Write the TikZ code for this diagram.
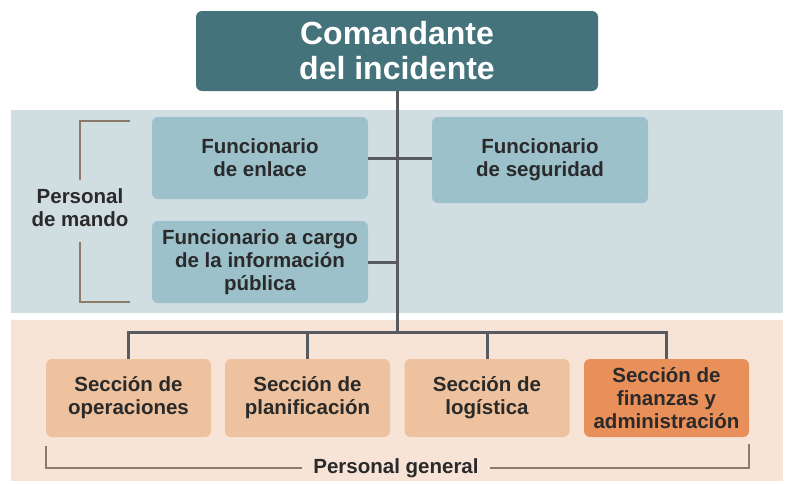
\documentclass[tikz,border=0pt]{standalone}
\usepackage{fontspec}
\setmainfont{Liberation Sans}
\definecolor{topteal}{HTML}{45737B}
\definecolor{blueband}{HTML}{D1DEE1}
\definecolor{bluebox}{HTML}{9CC1CB}
\definecolor{peachband}{HTML}{F7E4D6}
\definecolor{peachbox}{HTML}{EEC29E}
\definecolor{orangebox}{HTML}{E98F59}
\definecolor{conncol}{HTML}{575B5F}
\definecolor{brack}{HTML}{8C7B6B}
\definecolor{txt}{HTML}{2A2A2A}
\begin{document}
\begin{tikzpicture}[x=1pt,y=-1pt,
  band/.style={draw=none},
  boxbase/.style={rounded corners=6pt, inner sep=0pt, align=center, text=txt,
     font=\fontsize{20.5}{23}\selectfont\bfseries},
  bluenode/.style={boxbase, fill=bluebox, minimum width=216pt},
  peachnode/.style={boxbase, fill=peachbox, minimum width=165pt, minimum height=78pt},
  conn/.style={draw=conncol, line width=3pt},
  bracketline/.style={draw=brack, line width=1.5pt},
  label/.style={align=center, text=txt, inner sep=0pt, font=\fontsize{20.5}{23}\selectfont\bfseries}]
\useasboundingbox (0,0) rectangle (788,483);
% bands
\fill[blueband] (11,110) rectangle (783,313);
\fill[peachband] (11,320) rectangle (783,481);
% top node
\node[rounded corners=6pt, fill=topteal, text=white, minimum width=402pt, minimum height=80pt,
  inner sep=0pt, align=center, font=\fontsize{32}{35}\selectfont\bfseries] (top) at (397,51)
  {Comandante\\del incidente};
% command staff
\node[bluenode, minimum height=82pt] (enlace) at (260,158) {Funcionario\\de enlace};
\node[bluenode, minimum height=82pt] (info) at (260,262) {Funcionario a cargo\\de la información\\pública};
\node[bluenode, minimum height=86pt] (seg) at (540,160) {Funcionario\\de seguridad};
% sections
\node[peachnode] (s1) at (128.5,398) {Sección de\\operaciones};
\node[peachnode] (s2) at (307.5,398) {Sección de\\planificación};
\node[peachnode] (s3) at (487,398) {Sección de\\logística};
\node[peachnode, fill=orangebox] (s4) at (666.5,398) {Sección de\\finanzas y\\administración};
% labels
\node[label] (mando) at (80,208) {Personal\\de mando};
\node[label, anchor=base, inner xsep=11pt] (general) at (396,473) {Personal general};
% connectors
\coordinate (bar) at (397,332);
\draw[conn] (top.south) -- (bar);
\draw[conn] (enlace.east) -- (enlace.east -| seg.west);
\draw[conn] (info.east) -- (info.east -| bar);
\draw[conn] (s1.north) |- (bar) -| (s4.north);
\draw[conn] (s2.north) -- (s2.north |- bar);
\draw[conn] (s3.north) -- (s3.north |- bar);
% brackets
\coordinate (mt) at (130,121);
\coordinate (mb) at (130,302);
\draw[bracketline] (mt) -- (80,121) -- (80,180);
\draw[bracketline] (80,242) -- (80,302) -- (mb);
\coordinate (gl) at (46,446);
\coordinate (gr) at (749,444);
\draw[bracketline] (gl) |- (general.west |- 0,468);
\draw[bracketline] (gr) |- (general.east |- 0,468);
\end{tikzpicture}
\end{document}
